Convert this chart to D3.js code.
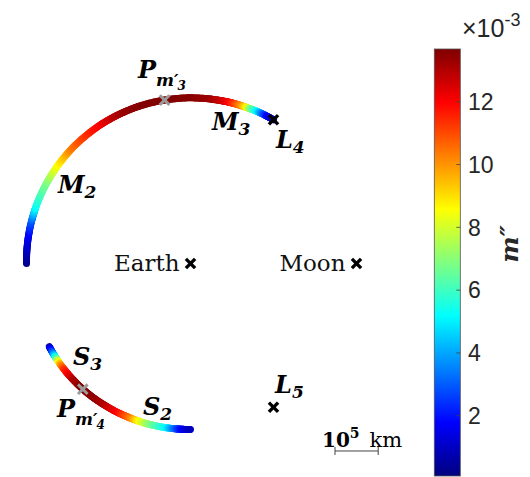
<!DOCTYPE html>
<html><head><meta charset="utf-8">
<script src="https://cdn.jsdelivr.net/npm/d3@7"></script>
<style>body{margin:0;background:#fff}</style>
</head><body><svg id="c" width="530" height="477"></svg>
<script>
const MU = 0.01215;
// Upper arc (M2 – P_m3' – M3 – L4): polar angle around Earth (deg), radius (Earth–Moon units), m'' (x1e-3)
const upperAngle  = [180, 175, 170, 165, 162, 160, 155, 150, 146, 143, 140, 136, 130, 123, 118, 114, 108, 99, 90, 83, 79, 76.5, 74, 72, 70, 69, 67.5, 66.4, 64.5, 62.4, 60];
const upperRadius = [0.988,0.989,0.99,0.991,0.991,0.992,0.992,0.993,0.993,0.994,0.994,0.995,0.995,0.996,0.996,0.996,0.997,0.997,0.998,0.998,0.998,0.999,0.999,0.999,0.999,0.999,1,1,1,1,1];
const upperM      = [0.2, 0.9, 1.6, 2.9, 4.3, 5.2, 6.1, 6.9, 7.9, 8.6, 9.3, 10.3, 11.2, 12.0, 12.8, 13.3, 13.6, 13.68, 13.6, 13.3, 12.7, 12.0, 11.0, 10.0, 8.6, 7.2, 6.0, 5.2, 3.5, 1.8, 0.8];
// Lower arc (S3 – P_m4' – S2)
const lowerAngle  = [210.5, 213, 215, 216.5, 218, 220, 222, 225, 229.4, 234, 239, 244, 247, 249, 252, 256, 261.6, 265, 267, 270];
const lowerRadius = [0.987,0.989,0.99,0.991,0.992,0.993,0.994,0.995,0.997,0.998,0.998,0.999,0.999,0.999,1,1,1,1,1,1];
const lowerM      = [0.6, 3.0, 5.5, 8.0, 9.8, 11.2, 12.0, 13.0, 13.68, 13.5, 13.0, 12.0, 11.0, 10.3, 8.6, 6.9, 5.2, 3.0, 1.8, 0.9];
// Primaries and Lagrange points (rotating frame, barycentric)
const pointNames = ["Earth", "Moon", "L4", "L5"];
const pointX = [-MU, 1 - MU, 0.5 - MU, 0.5 - MU];
const pointY = [0, 0, Math.sqrt(3) / 2, -Math.sqrt(3) / 2];
// Colorbar
const cbDomain = [0.08, 13.68];
const cbTicks = [2, 4, 6, 8, 10, 12];
const scaleKm = 1e5, emKm = 384400;

const svg = d3.select("#c");
const x = d3.scaleLinear().domain([-1, 1]).range([190.5 + 166 * (-1 + MU), 190.5 + 166 * (1 + MU)]);
const y = d3.scaleLinear().domain([-1, 1]).range([429.5, 97.5]);

function jet(t) {
  const c = v => Math.max(0, Math.min(1, v));
  const r = c(1.5 - Math.abs(4 * t - 3)), g = c(1.5 - Math.abs(4 * t - 2)), b = c(1.5 - Math.abs(4 * t - 1));
  return d3.rgb(r * 255, g * 255, b * 255).toString();
}
const cnorm = d3.scaleLinear().domain(cbDomain).range([0, 1]).clamp(true);
const color = m => jet(cnorm(m));

function drawArc(ang, rad, mv) {
  const g = svg.append("g");
  const K = 10;
  const pt = (a, r) => [x(-MU + r * Math.cos(a * Math.PI / 180)), y(r * Math.sin(a * Math.PI / 180))];
  for (let i = 0; i < ang.length - 1; i++) {
    for (let k = 0; k < K; k++) {
      const t0 = k / K, t1 = (k + 1) / K, tm = (t0 + t1) / 2;
      const L = (arr, t) => arr[i] + (arr[i + 1] - arr[i]) * t;
      const p0 = pt(L(ang, t0), L(rad, t0)), p1 = pt(L(ang, t1), L(rad, t1));
      g.append("line").attr("x1", p0[0]).attr("y1", p0[1]).attr("x2", p1[0]).attr("y2", p1[1])
        .attr("stroke", color(L(mv, tm))).attr("stroke-width", 7).attr("stroke-linecap", "round");
    }
  }
  const im = mv.indexOf(d3.max(mv));
  return pt(ang[im], rad[im]);
}
const pU = drawArc(upperAngle, upperRadius, upperM);
const pL = drawArc(lowerAngle, lowerRadius, lowerM);

function cross(px, py, col, h, w) {
  const g = svg.append("g").attr("stroke", col).attr("stroke-width", w);
  g.append("line").attr("x1", px - h).attr("y1", py - h).attr("x2", px + h).attr("y2", py + h);
  g.append("line").attr("x1", px - h).attr("y1", py + h).attr("x2", px + h).attr("y2", py - h);
}
cross(pU[0], pU[1], "#9b9b9b", 4.8, 3);
cross(pL[0], pL[1], "#9b9b9b", 4.8, 3);
pointNames.forEach((n, i) => cross(x(pointX[i]), y(pointY[i]), "#000", 4.6, 3.4));

// text labels
const serif = "'DejaVu Serif', serif";
["Earth", "Moon"].forEach((n, i) => {
  svg.append("text").attr("x", x(pointX[i]) - 11).attr("y", y(pointY[i]) + 7.5)
    .attr("text-anchor", "end").attr("font-family", serif).attr("font-size", 23).attr("fill", "#111").text(n);
});
function mlabel(dx, dy, main, sub, prime, subsub) {
  const t = svg.append("text").attr("x", x(dx)).attr("y", y(dy))
    .attr("font-family", serif).attr("font-weight", "bold").attr("font-style", "italic")
    .attr("font-size", 24).attr("fill", "#000");
  t.append("tspan").text(main);
  if (!prime) {
    t.append("tspan").attr("font-size", 17).attr("dy", 5).text(sub);
  } else {
    t.append("tspan").attr("font-size", 17).attr("dy", 8).text(sub + "\u2032");
    t.append("tspan").attr("font-size", 12).attr("dx", -1).attr("dy", 4).text(subsub);
  }
}
mlabel(-0.3284, 1.1175, "P", "m", true, "3");
mlabel(0.1174, 0.8042, "M", "3");
mlabel(0.5029, 0.6958, "L", "4");
mlabel(-0.8103, 0.4247, "M", "2");
mlabel(-0.7200, -0.6114, "S", "3");
mlabel(-0.8164, -0.9247, "P", "m", true, "4");
mlabel(-0.2983, -0.9127, "S", "2");
mlabel(0.4969, -0.7801, "L", "5");

// scale bar
const sbx0 = 0.8583, sby = -1.1295, sbLen = scaleKm / emKm;
const sb = svg.append("g").attr("stroke", "#444").attr("stroke-width", 1);
sb.append("line").attr("x1", x(sbx0)).attr("x2", x(sbx0 + sbLen)).attr("y1", y(sby)).attr("y2", y(sby));
[sbx0, sbx0 + sbLen].forEach(v => sb.append("line").attr("x1", x(v)).attr("x2", x(v)).attr("y1", y(sby) - 4).attr("y2", y(sby) + 4));
const st = svg.append("text").attr("x", x(sbx0) - 13).attr("y", y(sby) - 4).attr("font-family", serif).attr("fill", "#000");
st.append("tspan").attr("font-weight", "bold").attr("font-size", 20).text("10");
st.append("tspan").attr("font-weight", "bold").attr("font-size", 14).attr("dy", -9).text("5");
st.append("tspan").attr("font-size", 21).attr("dy", 9).attr("dx", 10).text("km");

// colorbar
const cbX = 434.3, cbW = 26;
const cy = d3.scaleLinear().domain(cbDomain).range([476, 49]);
const defs = svg.append("defs");
const grad = defs.append("linearGradient").attr("id", "jetg").attr("x1", 0).attr("y1", 1).attr("x2", 0).attr("y2", 0);
d3.range(0, 65).forEach(i => grad.append("stop").attr("offset", i / 64).attr("stop-color", jet(i / 64)));
svg.append("rect").attr("x", cbX).attr("y", cy(cbDomain[1])).attr("width", cbW).attr("height", cy(cbDomain[0]) - cy(cbDomain[1]))
  .attr("fill", "url(#jetg)").attr("stroke", "#555").attr("stroke-width", 0.8);
const sans = "'Liberation Sans', Arial, sans-serif";
cbTicks.forEach(v => {
  svg.append("line").attr("x1", cbX + cbW - 4).attr("x2", cbX + cbW).attr("y1", cy(v)).attr("y2", cy(v)).attr("stroke", "#444").attr("stroke-width", 0.8);
  svg.append("text").attr("x", 468).attr("y", cy(v)).attr("dy", "0.36em").attr("font-family", sans).attr("font-size", 23).attr("fill", "#262626").text(v);
});
const ex = svg.append("text").attr("x", 462).attr("y", 37).attr("font-family", sans).attr("fill", "#262626");
ex.append("tspan").attr("font-size", 25).text("\u00d710");
ex.append("tspan").attr("font-size", 18).attr("dy", -11).text("-3");
svg.append("text").attr("transform", "translate(518,244) rotate(-90)").attr("text-anchor", "middle")
  .attr("font-family", serif).attr("font-weight", "bold").attr("font-style", "italic").attr("font-size", 25).attr("fill", "#262626").text("m\u2033");
</script></body></html>
